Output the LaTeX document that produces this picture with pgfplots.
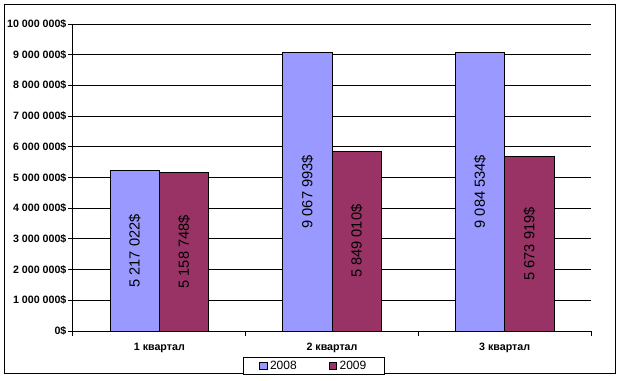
\documentclass[border=0pt]{standalone}
\usepackage{fontspec}
\setmainfont{Liberation Sans}
\usepackage{pgfplots}
\pgfplotsset{compat=1.18}
\definecolor{c2008}{HTML}{9999FF}
\definecolor{c2009}{HTML}{993366}
\begin{document}
\begin{tikzpicture}
\useasboundingbox (-54.75pt,-36.75pt) rectangle (413.25pt,248.25pt);
\draw[black, line width=0.75pt] (-51pt,-31.5pt) rectangle (406.5pt,245.25pt);
\begin{axis}[
  at={(0,0)}, anchor=south west,
  scale only axis, width=388.5pt, height=230.25pt,
  ybar=0pt, bar width=37pt,
  xmin=-0.5, xmax=2.5, ymin=0, ymax=10000000,
  axis x line*=bottom, axis y line*=left,
  axis line style={line width=0.75pt, -},
  tick align=outside, major tick length=3.75pt,
  tick style={black, line width=0.75pt},
  xtick={-0.5,0.5,1.5,2.5}, xticklabels={},
  extra x ticks={0,1,2},
  extra x tick labels={1 квартал,2 квартал,3 квартал},
  extra x tick style={major tick length=0pt, xticklabel style={yshift=-5.25pt}},
  xticklabel style={font=\bfseries\fontsize{8}{9.6}\selectfont},
  ytick={0,1000000,2000000,3000000,4000000,5000000,6000000,7000000,8000000,9000000,10000000},
  yticklabels={0\$,1 000 000\$,2 000 000\$,3 000 000\$,4 000 000\$,5 000 000\$,6 000 000\$,7 000 000\$,8 000 000\$,9 000 000\$,10 000 000\$},
  yticklabel style={font=\bfseries\fontsize{8}{9.6}\selectfont, inner sep=1pt},
  ymajorgrids, grid style={black, line width=0.75pt},
  scaled y ticks=false,
  nodes near coords={\pgfmathprintnumber[fixed,precision=0,1000 sep={\ },assume math mode=true]{\pgfplotspointmeta}\$},
  visualization depends on={rawy \as \rawy},
  every node near coord/.append style={font=\fontsize{11}{12}\selectfont, black, shift={(axis direction cs:0,-\rawy/2)}, rotate=90, anchor=center, inner sep=0pt},
  legend style={at={(0.4653,-0.114)}, anchor=center, legend columns=2, draw=black, line width=0.75pt,
    font=\fontsize{9}{10.8}\selectfont, inner xsep=12pt, inner ysep=0.5pt,
    /tikz/every even column/.append style={column sep=22pt}},
  legend image code/.code={\draw[#1, line width=0.6pt] (0pt,-2.8pt) rectangle (5.6pt,2.8pt);},
]
\addplot[fill=c2008, draw=black, line width=0.75pt] coordinates {(0,5217022) (1,9067993) (2,9084534)};
\addplot[fill=c2009, draw=black, line width=0.75pt] coordinates {(0,5158748) (1,5849010) (2,5673919)};
\legend{2008,2009}
\end{axis}
\end{tikzpicture}
\end{document}
